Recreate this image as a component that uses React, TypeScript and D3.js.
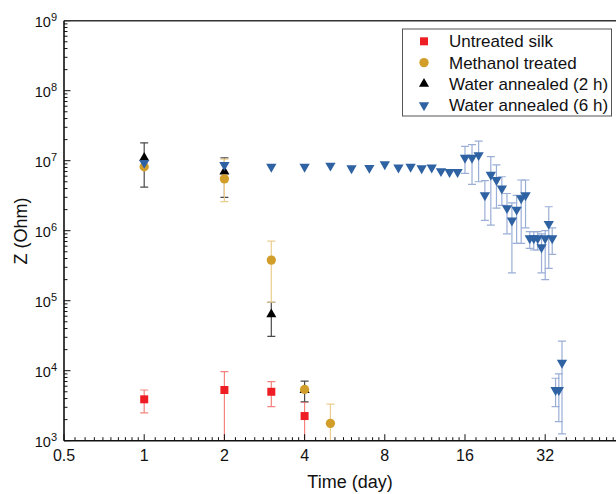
import React from "react";
import * as d3 from "d3";

// values (days, Ohm)
const untreatedDays = [1, 2, 3, 4];
const untreatedZ = [3900, 5300, 5000, 2250];
const untreatedLo = [2500, 800, 3060, 800];
const untreatedHi = [5300, 9700, 7000, 3540];

const methanolDays = [1, 2, 3, 4, 5];
const methanolZ = [8.2e6, 5.5e6, 3.8e5, 5400, 1770];
const methanolLo = [8.2e6, 2.6e6, 9.5e4, 5400, 800];
const methanolHi = [8.2e6, 1.05e7, 7.1e5, 5400, 3340];

const water2Days = [1, 2, 3, 4];
const water2Z = [1.1e7, 7.0e6, 6.4e4, 5300];
const water2Lo = [4.2e6, 3.0e6, 3.1e4, 3600];
const water2Hi = [1.8e7, 1.1e7, 9.5e4, 7100];

const water6Days = [1, 2, 3, 4, 5, 6, 7, 8, 9, 10, 11, 12, 13, 14, 15, 16, 17, 18, 19, 20, 21, 22, 23, 24, 25, 26, 27, 28, 29, 30, 31, 32, 33, 34, 35, 36, 37];
const water6Z = [9.3e6, 8.7e6, 8.2e6, 8.2e6, 8.5e6, 7.8e6, 7.9e6, 8.9e6, 8.0e6, 8.2e6, 7.8e6, 8.0e6, 7.1e6, 6.9e6, 6.9e6, 1.1e7, 1.1e7, 1.2e7, 3.2e6, 6.3e6, 5.3e6, 4.0e6, 2.1e6, 1.4e6, 2.0e6, 2.9e6, 3.2e6, 7.8e5, 7.8e5, 7.8e5, 5.8e5, 7.8e5, 1.25e6, 7.8e5, 5300, 5300, 1.3e4];
const water6Lo = [9.3e6, 8.7e6, 8.2e6, 8.2e6, 8.5e6, 7.8e6, 7.9e6, 8.9e6, 8.0e6, 8.2e6, 7.8e6, 8.0e6, 7.1e6, 6.9e6, 6.9e6, 6.6e6, 4.6e6, 5.0e6, 1.4e6, 1.2e6, 2.1e6, 2.3e6, 9.0e5, 2.5e5, 6.6e5, 6.6e5, 1.1e6, 5.6e5, 5.3e5, 5.3e5, 2.5e5, 2.0e5, 2.9e5, 4.6e5, 3060, 1870, 1250];
const water6Hi = [9.3e6, 8.7e6, 8.2e6, 8.2e6, 8.5e6, 7.8e6, 7.9e6, 8.9e6, 8.0e6, 8.2e6, 7.8e6, 8.0e6, 7.1e6, 6.9e6, 6.9e6, 1.6e7, 1.7e7, 1.9e7, 5.2e6, 1.14e7, 8.7e6, 5.9e6, 3.4e6, 2.5e6, 3.2e6, 5.3e6, 5.3e6, 9.7e5, 9.7e5, 9.7e5, 9.0e5, 1.0e6, 2.2e6, 1.1e6, 7800, 9000, 2.65e4];

const xMajor = [0.5, 1, 2, 4, 8, 16, 32, 64];
const xLabels = ["0.5", "1", "2", "4", "8", "16", "32"];
const yExponents = [3, 4, 5, 6, 7, 8, 9];

const legendNames = ["Untreated silk", "Methanol treated", "Water annealed (2 h)", "Water annealed (6 h)"];

const W = 616;
const H = 494;
const left = 64;
const top = 20.7;
const bottom = 440.7;
const font = "'Liberation Sans', Arial, Helvetica, sans-serif";

const x = d3.scaleLog().base(2).domain([0.5, 64]).range([left, 625.4]);
const y = d3.scaleLog().domain([1e3, 1e9]).range([bottom, top]);

const series = [
  { days: untreatedDays, z: untreatedZ, lo: untreatedLo, hi: untreatedHi, color: "#ee1d23", err: "#f3837c", shape: d3.symbolSquare, size: 64, rot: 0 },
  { days: water2Days, z: water2Z, lo: water2Lo, hi: water2Hi, color: "#000000", err: "#4a4a4a", shape: d3.symbolTriangle, size: 44, rot: 0 },
  { days: methanolDays, z: methanolZ, lo: methanolLo, hi: methanolHi, color: "#d29e2a", err: "#ebcd8f", shape: d3.symbolCircle, size: 68, rot: 0 },
  { days: water6Days, z: water6Z, lo: water6Lo, hi: water6Hi, color: "#2e62a3", err: "#9aaed6", shape: d3.symbolTriangle, size: 46, rot: 180 },
];
// legend order differs from drawing order
const legendSeries = [series[0], series[2], series[1], series[3]];

const xMinor: number[] = [];
xMajor.slice(0, -1).forEach((a) => {
  for (let k = 1; k < 10; k++) xMinor.push(a * (1 + k / 10));
});
const yMinor: number[] = [];
yExponents.slice(0, -1).forEach((e) => {
  for (let d = 2; d < 10; d++) yMinor.push(d * Math.pow(10, e));
});

export default function App() {
  const cap = 4;
  return (
    <svg width={W} height={H} style={{ position: "absolute", left: 0, top: 0, background: "#fff" }} fontFamily={font}>
      <defs>
        <clipPath id="plot">
          <rect x={left} y={top} width={W - left} height={bottom - top} />
        </clipPath>
      </defs>

      {/* error bars */}
      <g clipPath="url(#plot)">
        {series.map((s, si) =>
          s.days.map((d, i) => {
            if (s.lo[i] === s.hi[i]) return null;
            const cx = x(d);
            const y1 = y(s.hi[i]);
            const y2 = y(Math.max(s.lo[i], 500));
            return (
              <g key={`e${si}-${i}`} stroke={s.err} strokeWidth={1.2}>
                <line x1={cx} x2={cx} y1={y1} y2={y2} />
                <line x1={cx - cap} x2={cx + cap} y1={y1} y2={y1} />
                {s.lo[i] >= 1000 && <line x1={cx - cap} x2={cx + cap} y1={y2} y2={y2} />}
              </g>
            );
          })
        )}
      </g>

      {/* markers */}
      <g>
        {series.map((s, si) => {
          const path = d3.symbol().type(s.shape).size(s.size)() as string;
          return s.days.map((d, i) => (
            <path
              key={`m${si}-${i}`}
              d={path}
              fill={s.color}
              transform={`translate(${x(d)},${y(s.z[i])}) rotate(${s.rot})`}
            />
          ));
        })}
      </g>

      {/* axes */}
      <g stroke="#111" strokeWidth={1}>
        {xMajor.map((v) => (
          <line key={`xM${v}`} x1={x(v)} x2={x(v)} y1={bottom} y2={bottom - 6.5} />
        ))}
        {xMinor.map((v, i) => (
          <line key={`xm${i}`} x1={x(v)} x2={x(v)} y1={bottom} y2={bottom - 3.5} />
        ))}
        {yExponents.map((e) => (
          <line key={`yM${e}`} x1={left} x2={left + 6.5} y1={y(Math.pow(10, e))} y2={y(Math.pow(10, e))} />
        ))}
        {yMinor.map((v, i) => (
          <line key={`ym${i}`} x1={left} x2={left + 3.5} y1={y(v)} y2={y(v)} />
        ))}
      </g>
      <line x1={left} x2={W} y1={top} y2={top} stroke="#333" strokeWidth={1.4} />
      <line x1={left} x2={W} y1={bottom} y2={bottom} stroke="#111" strokeWidth={1.6} />
      <line x1={left} x2={left} y1={top} y2={bottom} stroke="#111" strokeWidth={1.6} />

      {/* tick labels */}
      <g fontSize={16} fill="#111" textAnchor="middle">
        {xLabels.map((t, i) => (
          <text key={`xl${t}`} x={x(xMajor[i])} y={461}>
            {t}
          </text>
        ))}
      </g>
      <g fill="#111" textAnchor="end">
        {yExponents.map((e) => (
          <text key={`yl${e}`} x={57} y={y(Math.pow(10, e)) + 6.6} fontSize={14.5}>
            10
            <tspan fontSize={11} dy={-6.8}>
              {e}
            </tspan>
          </text>
        ))}
      </g>

      {/* axis titles */}
      <text x={350} y={488} fontSize={18} textAnchor="middle" fill="#111">
        Time (day)
      </text>
      <text
        transform={`translate(26.5,231) rotate(-90)`}
        fontSize={18}
        textAnchor="middle"
        fill="#111"
      >
        Z (Ohm)
      </text>

      {/* legend */}
      <g>
        <rect x={402.5} y={29} width={209} height={87} fill="#fff" stroke="#555" strokeWidth={1} />
        {legendSeries.map((s, i) => {
          const ly = 41.3 + i * 21.3;
          const path = d3.symbol().type(s.shape).size(s.size)() as string;
          return (
            <g key={`lg${i}`}>
              <path d={path} fill={s.color} transform={`translate(424,${ly}) rotate(${s.rot})`} />
              <text x={449} y={ly + 6} fontSize={17} fill="#111">
                {legendNames[i]}
              </text>
            </g>
          );
        })}
      </g>
    </svg>
  );
}
